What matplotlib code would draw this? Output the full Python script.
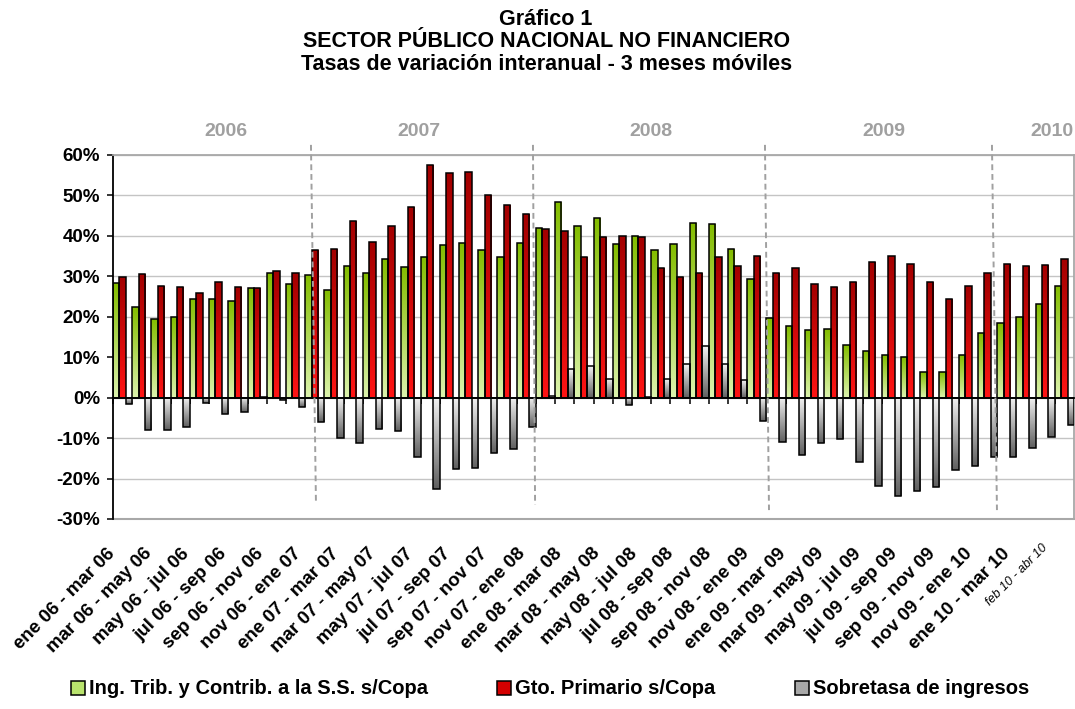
# Sector Público Nacional no Financiero: tasas de variación interanual,
# promedios móviles de 3 meses (ene 06 - mar 06 ... feb 10 - abr 10)

import numpy as np
import matplotlib.pyplot as plt
import matplotlib.transforms as mtransforms
from matplotlib.colors import LinearSegmentedColormap
from matplotlib.patches import Rectangle

plt.rcParams['font.family'] = ['Liberation Sans', 'DejaVu Sans']
plt.rcParams['font.weight'] = 'bold'

# Variaciones interanuales (%), una ventana de 3 meses por mes de inicio
ing_trib = [28.3, 22.4, 19.5, 20.0, 24.5, 24.5, 23.8, 27.1, 30.7, 28.2,
            30.3, 26.6, 32.6, 30.8, 34.3, 32.4, 34.9, 37.8, 38.3, 36.4,
            34.8, 38.2, 42.0, 48.4, 42.5, 44.5, 38.1, 40.0, 36.5, 37.9,
            43.1, 42.9, 36.7, 29.3, 19.8, 17.8, 16.7, 16.9, 12.9, 11.6,
            10.6, 10.1, 6.3, 6.4, 10.6, 15.9, 18.4, 20.0, 23.1, 27.7]

gto_primario = [29.8, 30.5, 27.6, 27.25, 25.9, 28.7, 27.4, 27.0, 31.3, 30.7,
                36.4, 36.7, 43.7, 38.6, 42.5, 47.2, 57.5, 55.5, 55.7, 50.1,
                47.6, 45.3, 41.6, 41.3, 34.9, 39.8, 40.0, 39.8, 32.1, 29.8,
                30.7, 34.9, 32.6, 35.0, 30.8, 32.1, 28.1, 27.3, 28.7, 33.5,
                35.0, 33.1, 28.6, 24.4, 27.5, 30.7, 33.1, 32.6, 32.9, 34.4]

sobretasa = [-1.5, -8.0, -8.0, -7.2, -1.4, -4.1, -3.5, 0.1, -0.6, -2.4,
             -6.0, -9.9, -11.1, -7.8, -8.2, -14.7, -22.7, -17.7, -17.3, -13.6,
             -12.8, -7.2, 0.3, 7.1, 7.8, 4.7, -1.9, 0.2, 4.5, 8.3,
             12.7, 8.3, 4.3, -5.7, -11.0, -14.2, -11.1, -10.2, -15.8, -21.8,
             -24.3, -23.0, -22.2, -17.9, -16.9, -14.7, -14.6, -12.4, -9.8, -6.7]

# Etiquetas del eje x (una cada dos ventanas) y la última ventana
x_labels = ['ene 06 - mar 06', 'mar 06 - may 06', 'may 06 - jul 06', 'jul 06 - sep 06',
            'sep 06 - nov 06', 'nov 06 - ene 07', 'ene 07 - mar 07', 'mar 07 - may 07',
            'may 07 - jul 07', 'jul 07 - sep 07', 'sep 07 - nov 07', 'nov 07 - ene 08',
            'ene 08 - mar 08', 'mar 08 - may 08', 'may 08 - jul 08', 'jul 08 - sep 08',
            'sep 08 - nov 08', 'nov 08 - ene 09', 'ene 09 - mar 09', 'mar 09 - may 09',
            'may 09 - jul 09', 'jul 09 - sep 09', 'sep 09 - nov 09', 'nov 09 - ene 10',
            'ene 10 - mar 10']
last_label = 'feb 10 - abr 10'

years = ['2006', '2007', '2008', '2009', '2010']
year_pos = [5.4, 15.4, 27.5, 39.6, 48.35]

series_names = ['Ing. Trib. y Contrib. a la S.S. s/Copa', 'Gto. Primario s/Copa',
                'Sobretasa de ingresos']


def gradient_bars(ax, bars, top_color, bottom_color):
    # paint each bar with a vertical gradient clipped to the bar outline
    cmap = LinearSegmentedColormap.from_list('grad', [bottom_color, top_color])
    grad = np.linspace(0, 1, 64).reshape(-1, 1)
    for bar in bars:
        x0, y0 = bar.get_xy()
        w, h = bar.get_width(), bar.get_height()
        if h == 0:
            continue
        lo, hi = min(y0, y0 + h), max(y0, y0 + h)
        im = ax.imshow(grad, extent=(x0, x0 + w, lo, hi), origin='lower', cmap=cmap,
                       aspect='auto', interpolation='bilinear', zorder=2.5)
        im.set_clip_path(bar)
        bar.set_facecolor('none')


fig = plt.figure(figsize=(10.75, 7.09), dpi=100)
ax = fig.add_axes([0.1051, 0.2680, 0.8940, 0.5134])

x = np.arange(len(ing_trib))
w = 1 / 3
b1 = ax.bar(x - w, ing_trib, w, edgecolor='black', linewidth=1.1, zorder=3)
b2 = ax.bar(x, gto_primario, w, edgecolor='black', linewidth=1.1, zorder=3)
b3 = ax.bar(x + w, sobretasa, w, edgecolor='black', linewidth=1.1, zorder=3)

gradient_bars(ax, b1, '#84bd00', '#dcf3ad')
gradient_bars(ax, b2, '#a30000', '#ff1414')
gradient_bars(ax, b3, '#f2f2f2', '#606060')

ax.set_xlim(-0.5, len(x) - 0.5)
ax.set_ylim(-30, 60)

# y axis: percentages and light grid
yticks = list(range(-30, 61, 10))
ax.set_yticks(yticks)
ax.set_yticklabels([f'{v}%' for v in yticks], fontsize=13.5, fontweight='bold')
ax.yaxis.grid(True, color='#c4c4c4', linewidth=1)
ax.set_axisbelow(True)
ax.tick_params(axis='y', direction='out', length=4.3, width=1.1, pad=5)

# x axis sits on the zero line, ticks between categories
ax.spines['bottom'].set_position(('data', 0))
ax.spines['bottom'].set_linewidth(1.3)
ax.spines['left'].set_linewidth(1.3)
for side in ['top', 'right']:
    ax.spines[side].set_color('#a8a8a8')
    ax.spines[side].set_linewidth(1.3)
ax.axhline(-30, color='#a8a8a8', linewidth=1.5, clip_on=False, zorder=1)
ax.set_xticks(np.arange(-0.5, len(x), 1))
ax.set_xticklabels([])
ax.tick_params(axis='x', direction='out', length=4.3, width=1.1)

# rotated window labels under the plot
trans = mtransforms.blended_transform_factory(ax.transData, ax.transAxes)
label_pos = np.arange(0, len(x), 2) * 0.9705 - 0.55
for pos, lab in zip(label_pos, x_labels):
    ax.text(pos, -0.088, lab, transform=trans, rotation=45, rotation_mode='anchor',
            ha='right', va='center', fontsize=13.5, fontweight='bold')
ax.text(48.0, -0.075, last_label, transform=trans, rotation=45, rotation_mode='anchor',
        ha='right', va='center', fontsize=9, fontweight='normal', style='italic')

# year dividers and year names
dividers = [(9.80, 10.06, -26.0), (21.35, 21.46, -26.5), (33.42, 33.63, -27.8), (45.23, 45.49, -27.8)]
for xt, xb, yb in dividers:
    ax.plot([xt, xb], [62.5, yb], linestyle=(0, (3, 2)), color='#a0a0a0', linewidth=1.4,
            clip_on=False, zorder=5)
for yr, pos in zip(years, year_pos):
    ax.text(pos, 65.8, yr, ha='center', va='center', color='#a0a0a0', fontsize=14,
            fontweight='bold', clip_on=False)

# title
fig.text(0.508, 0.972, 'Gráfico 1', ha='center', va='center', fontsize=15.5, fontweight='bold')
fig.text(0.508, 0.941, 'SECTOR PÚBLICO NACIONAL NO FINANCIERO', ha='center', va='center',
         fontsize=15.5, fontweight='bold')
fig.text(0.508, 0.909, 'Tasas de variación interanual - 3 meses móviles', ha='center',
         va='center', fontsize=15.5, fontweight='bold')

# legend drawn as boxes + text along the bottom
legend_x = [71, 497, 795]
legend_colors = ['#b9e36d', '#d40000', '#a8a8a8']
for px, col, name in zip(legend_x, legend_colors, series_names):
    fig.patches.append(Rectangle((px / 1075, 14 / 709), 14 / 1075, 14 / 709,
                                 facecolor=col, edgecolor='black', linewidth=1.1,
                                 transform=fig.transFigure, figure=fig))
    fig.text((px + 18) / 1075, 21 / 709, name, ha='left', va='center', fontsize=14.5,
             fontweight='bold')

fig.savefig('out.png', dpi=100)
